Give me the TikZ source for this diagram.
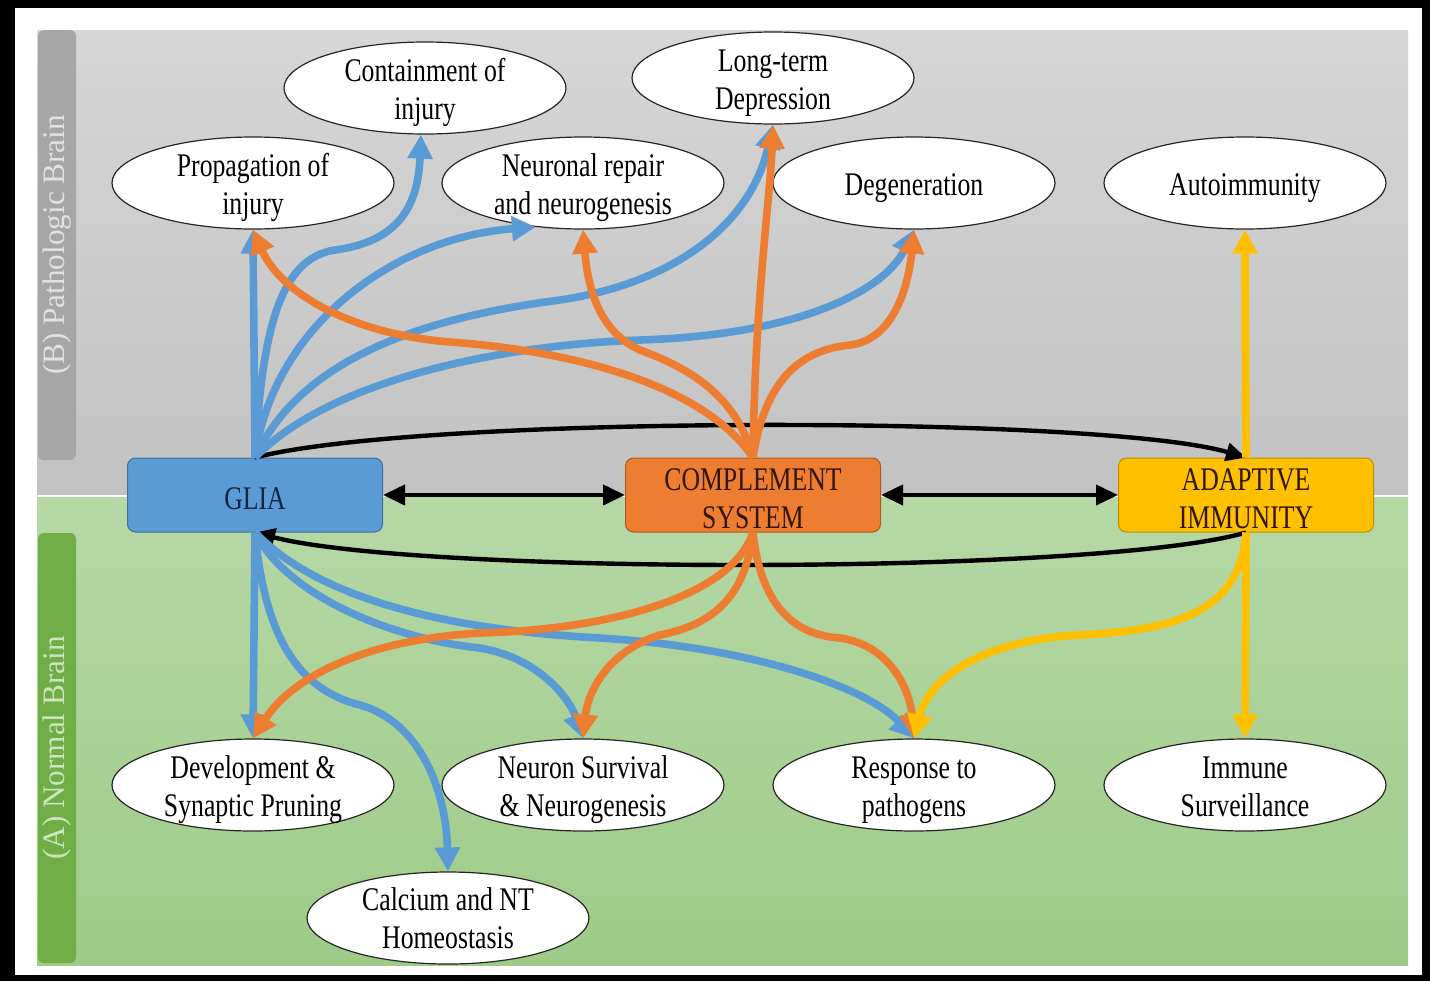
\documentclass[tikz,border=0pt]{standalone}
\usepackage{fontspec}
\setmainfont[FakeStretch=0.78]{Liberation Serif}
\newfontfamily\sidefont{Liberation Serif}
\usetikzlibrary{shapes.geometric,arrows.meta}
\definecolor{bcol}{RGB}{91,155,213}
\definecolor{ocol}{RGB}{237,125,49}
\definecolor{ycol}{RGB}{255,192,0}
\definecolor{bline}{RGB}{65,113,156}
\definecolor{oline}{RGB}{174,90,33}
\definecolor{yline}{RGB}{188,140,0}
\definecolor{gliatxt}{RGB}{16,38,70}
\definecolor{comptxt}{RGB}{50,22,8}
\definecolor{graytop}{RGB}{214,214,214}
\definecolor{graybot}{RGB}{194,194,194}
\definecolor{greentop}{RGB}{182,216,166}
\definecolor{greenbot}{RGB}{158,203,135}
\definecolor{graybar}{RGB}{166,166,166}
\definecolor{greenbar}{RGB}{112,173,71}
\definecolor{graytxt}{RGB}{226,226,226}
\definecolor{greentxt}{RGB}{204,230,188}
\tikzset{every picture/.style={x=0.5pt,y=-0.5pt}}
\tikzset{lift/.style={execute at begin node={\rule{0pt}{#1}}}}
\tikzset{box/.style={rectangle,rounded corners=4pt,line width=0.5pt,minimum width=127.5pt,minimum height=37pt,inner sep=0pt,align=center,lift=14.5pt,font=\fontsize{16.5}{19}\selectfont}}
\tikzset{ell/.style={ellipse,draw=black!85,fill=white,line width=0.6pt,minimum width=141pt,minimum height=46pt,inner xsep=0pt,inner ysep=-6pt,align=center,lift=16.5pt,font=\fontsize{16.5}{19}\selectfont}}
\tikzset{sidebar/.style={rectangle,rounded corners=3pt,rotate=90,minimum width=215pt,minimum height=19pt,inner sep=0pt,font=\sidefont\fontsize{15.6}{18}\selectfont}}
\tikzset{edge/.style={-{Triangle[length=12pt,width=12pt]},line width=3.8pt}}
\tikzset{link/.style={-{Triangle[length=10pt,width=9pt]},line width=2.2pt}}
\tikzset{both/.style={{Triangle[length=11pt,width=10pt]}-{Triangle[length=11pt,width=10pt]},line width=2pt}}

\begin{document}
\begin{tikzpicture}
\useasboundingbox (0,0) rectangle (1430,981);
\fill [black] (0,0) rectangle (1430,981);
\fill [white] (15,8) rectangle (1422,975);
\shade [top color=graytop,bottom color=graybot] (37,30) rectangle (1408,494);
\shade [top color=greentop,bottom color=greenbot] (37,497) rectangle (1408,965);

\node [sidebar,fill=graybar,text=graytxt] (pbar) at (57,245) {(B) Pathologic Brain};
\node [sidebar,fill=greenbar,text=greentxt] (nbar) at (57,748) {(A) Normal Brain};

\node [box,fill=bcol,draw=bline,text=gliatxt] (glia) at (255,495) {GLIA};
\node [box,lift=33.8pt,fill=ocol,draw=oline,text=comptxt] (comp) at (753,495) {COMPLEMENT\\SYSTEM};
\node [box,lift=33.8pt,fill=ycol,draw=yline,text=comptxt] (adapt) at (1246,495) {ADAPTIVE\\IMMUNITY};

\node [ell,lift=35.5pt] (cont) at (425,88) {Containment of\\injury};
\node [ell,lift=35.5pt] (ltd) at (773,78) {Long-term\\Depression};
\node [ell,lift=35.5pt] (prop) at (253,183) {Propagation of\\injury};
\node [ell,lift=35.5pt] (repair) at (583,183) {Neuronal repair\\and neurogenesis};
\node [ell] (degen) at (914,183) {Degeneration};
\node [ell] (auto) at (1245,183) {Autoimmunity};

\node [ell,lift=35.5pt] (dev) at (253,785) {Development \&\\Synaptic Pruning};
\node [ell,lift=35.5pt] (surv) at (583,785) {Neuron Survival\\\& Neurogenesis};
\node [ell,lift=35.5pt] (resp) at (914,785) {Response to\\pathogens};
\node [ell,lift=31.5pt] (immune) at (1245,785) {Immune\\Surveillance};
\node [ell,lift=31pt] (calc) at (448,918) {Calcium and NT\\Homeostasis};

\draw [link] (glia.north) .. controls (420,415) and (1100,415) .. (adapt.north);
\draw [link] (adapt.south) .. controls (1100,575) and (420,575) .. (glia.south);
\draw [both] (glia.east) -- (comp.west);
\draw [both] (comp.east) -- (adapt.west);

\draw [bcol,edge] (glia.north) -- (prop.south);
\draw [bcol,edge] (glia.north) .. controls (262,330) and (280,258) .. (335,250) .. controls (395,242) and (418,210) .. (cont.265);
\draw [bcol,edge] (glia.north) .. controls (272,330) and (390,238) .. (repair.223);
\draw [bcol,edge] (glia.north) .. controls (300,360) and (420,318) .. (560,300) .. controls (680,282) and (752,220) .. (ltd.south);
\draw [bcol,edge] (glia.north) .. controls (330,380) and (500,345) .. (640,340) .. controls (800,335) and (885,290) .. (degen.south);

\draw [bcol,edge] (glia.south) -- (dev.north);
\draw [bcol,edge] (glia.south) .. controls (265,640) and (300,690) .. (360,705) .. controls (420,722) and (446,790) .. (calc.north);
\draw [bcol,edge] (glia.south) .. controls (290,600) and (400,640) .. (480,648) .. controls (540,658) and (570,700) .. (surv.north);
\draw [bcol,edge] (glia.south) .. controls (320,600) and (450,630) .. (600,638) .. controls (760,648) and (870,690) .. (resp.north);

\draw [ocol,edge] (comp.north) .. controls (700,380) and (560,350) .. (450,342) .. controls (350,334) and (280,292) .. (prop.south);
\draw [ocol,edge] (comp.north) .. controls (735,390) and (680,365) .. (640,350) .. controls (600,332) and (588,290) .. (repair.south);
\draw [ocol,edge] (comp.north) .. controls (755,300) and (770,200) .. (ltd.south);
\draw [ocol,edge] (comp.north) .. controls (765,380) and (800,350) .. (850,345) .. controls (892,340) and (908,290) .. (degen.south);

\draw [ocol,edge] (comp.south) .. controls (730,600) and (600,630) .. (480,633) .. controls (360,640) and (290,680) .. (dev.north);
\draw [ocol,edge] (comp.south) .. controls (745,600) and (710,625) .. (660,635) .. controls (610,650) and (588,690) .. (surv.north);
\draw [ocol,edge] (comp.south) .. controls (760,600) and (790,635) .. (840,638) .. controls (890,645) and (910,690) .. (resp.north);

\draw [ycol,edge] (adapt.north) -- (auto.south);
\draw [ycol,edge] (adapt.south) -- (immune.north);
\draw [ycol,edge] (adapt.south) .. controls (1240,610) and (1180,630) .. (1080,635) .. controls (980,640) and (928,680) .. (resp.north);
\end{tikzpicture}
\end{document}
